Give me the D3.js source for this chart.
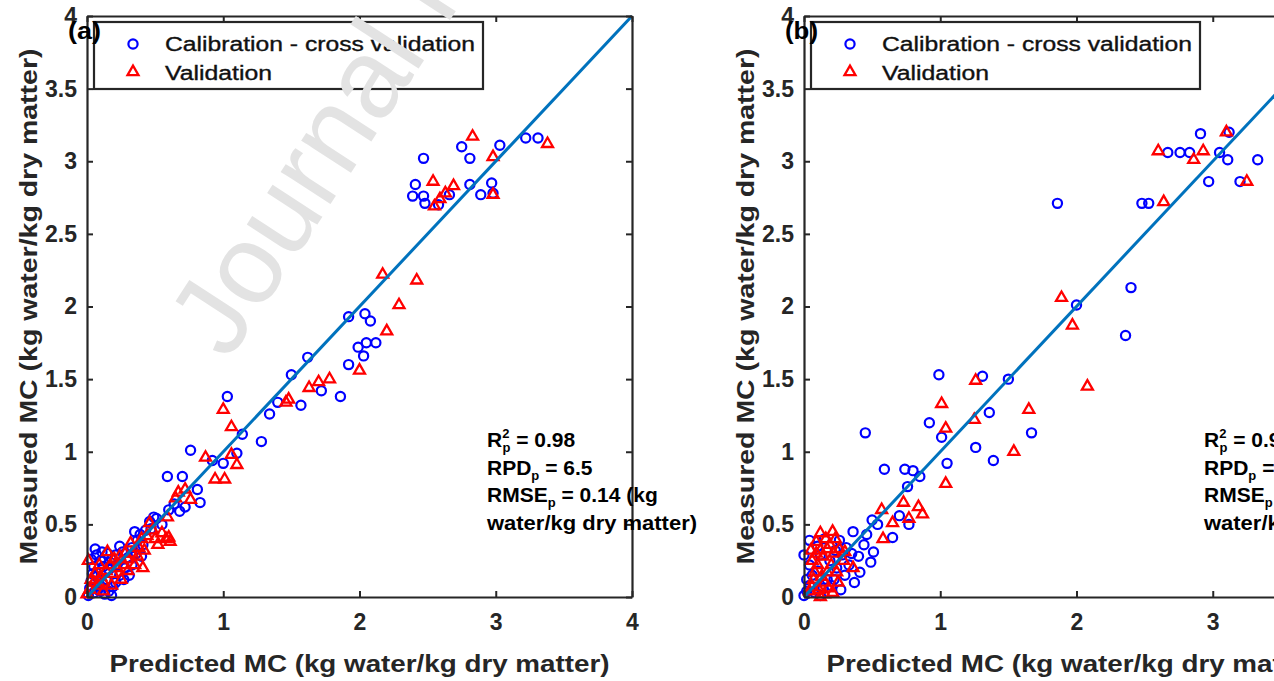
<!DOCTYPE html>
<html>
<head>
<meta charset="utf-8">
<script src="https://cdn.jsdelivr.net/npm/d3@7"></script>
<style>
  body { margin: 0; background: #fff; }
  text { font-family: "Liberation Sans", Arial, sans-serif; }
</style>
</head>
<body>
<svg id="chart" width="1274" height="681"></svg>
<script>
// ticks
const xTicks = [0, 1, 2, 3, 4];
const yTicks = [0, 0.5, 1, 1.5, 2, 2.5, 3, 3.5, 4];
const legendLabels = ["Calibration - cross validation", "Validation"];
const panelTags = ["(a)", "(b)"];

// panel (a): [predicted, measured]
const calA = [
  [2.47,3.02],[2.75,3.10],[2.81,3.02],[3.03,3.11],[3.22,3.16],[3.31,3.16],[2.41,2.84],[2.39,2.76],
  [2.47,2.76],[2.48,2.71],[2.58,2.70],[2.66,2.77],[2.81,2.84],[2.89,2.77],[2.97,2.85],[2.98,2.78],
  [1.92,1.93],[2.04,1.95],[2.08,1.90],[2.05,1.75],[2.12,1.75],[1.99,1.72],[2.03,1.66],[1.92,1.60],
  [1.86,1.38],[1.62,1.65],[1.50,1.53],[1.57,1.32],[1.40,1.34],[1.34,1.26],[1.28,1.07],[1.72,1.42],
  [1.14,1.12],[1.03,1.38],[1.10,0.99],[1.00,0.92],[0.92,0.94],[0.76,1.01],
  [0.59,0.83],[0.70,0.83],[0.81,0.74],[0.83,0.65],[0.72,0.62],[0.68,0.59],[0.64,0.64],[0.60,0.60],
  [0.51,0.54],[0.55,0.50],[0.47,0.47],
  [0.01,0.01],[0.02,0.06],[0.03,0.11],[0.04,0.16],[0.05,0.21],[0.03,0.26],[0.07,0.29],[0.10,0.25],
  [0.12,0.21],[0.07,0.14],[0.09,0.09],[0.10,0.04],[0.13,0.02],[0.16,0.04],[0.19,0.07],[0.14,0.12],
  [0.16,0.19],[0.18,0.26],[0.21,0.29],[0.22,0.22],[0.24,0.15],[0.21,0.10],[0.27,0.12],[0.28,0.20],
  [0.30,0.27],[0.26,0.31],[0.33,0.34],[0.36,0.30],[0.33,0.22],[0.31,0.15],[0.37,0.39],[0.39,0.43],
  [0.35,0.45],[0.41,0.36],[0.43,0.46],[0.46,0.52],[0.49,0.55],[0.24,0.35],[0.15,0.30],[0.11,0.31],
  [0.06,0.33],[0.08,0.05],[0.05,0.03],[0.18,0.01],[0.40,0.28]
];
const valA = [
  [2.83,3.17],[2.98,3.03],[3.38,3.12],[2.54,2.86],[2.69,2.83],[2.63,2.78],[2.59,2.74],[2.55,2.69],
  [2.98,2.77],
  [2.17,2.22],[2.42,2.18],[2.29,2.01],[2.20,1.83],[2.00,1.56],[1.78,1.50],[1.70,1.48],[1.63,1.44],
  [1.48,1.36],[1.46,1.34],[1.00,1.29],[1.06,1.17],[0.87,0.96],[1.06,0.98],[1.10,0.91],[0.94,0.81],
  [1.01,0.81],
  [0.65,0.68],[0.76,0.67],[0.67,0.72],[0.72,0.74],[0.59,0.55],[0.60,0.41],[0.61,0.38],[0.46,0.51],
  [0.00,0.02],[0.02,0.05],[0.01,0.25],[0.05,0.10],[0.08,0.08],[0.10,0.14],[0.12,0.10],[0.14,0.18],
  [0.15,0.31],[0.17,0.22],[0.19,0.16],[0.20,0.26],[0.22,0.20],[0.24,0.28],[0.25,0.12],[0.27,0.22],
  [0.28,0.30],[0.30,0.26],[0.32,0.37],[0.33,0.30],[0.35,0.22],[0.37,0.28],[0.38,0.34],[0.40,0.40],
  [0.41,0.20],[0.42,0.32],[0.44,0.42],[0.48,0.46],[0.50,0.40],[0.52,0.36],[0.55,0.44],[0.58,0.40],
  [0.18,0.08],[0.30,0.18],[0.12,0.04],[0.06,0.16],[0.09,0.22],[0.03,0.12]
];

// panel (b)
const calB = [
  [2.91,3.19],[3.12,3.20],[2.67,3.06],[2.76,3.06],[2.83,3.06],[3.05,3.06],[3.11,3.01],[3.33,3.01],
  [2.97,2.86],[3.20,2.86],[1.86,2.71],[2.48,2.71],[2.53,2.71],[2.40,2.13],
  [2.00,2.01],[2.36,1.80],[0.99,1.53],[1.31,1.52],[1.50,1.50],[1.36,1.27],[1.67,1.13],[1.26,1.03],
  [1.39,0.94],[0.45,1.13],[0.92,1.20],[1.01,1.10],[1.05,0.92],
  [0.59,0.88],[0.74,0.88],[0.80,0.87],[0.85,0.83],[0.76,0.76],[0.70,0.56],[0.77,0.50],[0.65,0.41],
  [0.50,0.53],[0.54,0.50],[0.36,0.45],[0.46,0.43],[0.51,0.31],[0.49,0.24],[0.41,0.17],[0.37,0.10],
  [0.00,0.01],[0.02,0.04],[0.08,0.03],[0.04,0.08],[0.02,0.12],[0.04,0.22],[0.00,0.29],[0.04,0.39],
  [0.12,0.29],[0.17,0.12],[0.10,0.18],[0.14,0.06],[0.20,0.08],[0.26,0.39],[0.28,0.29],[0.35,0.30],
  [0.30,0.15],[0.33,0.22],[0.24,0.20],[0.22,0.12],[0.19,0.25],[0.27,0.05],[0.06,0.15],[0.10,0.35],
  [0.15,0.40],[0.31,0.34],[0.40,0.28],[0.44,0.36],[0.23,0.32],[0.12,0.01]
];
const valB = [
  [3.10,3.20],[2.60,3.07],[2.93,3.07],[2.86,3.01],[3.25,2.86],[2.64,2.72],[1.89,2.06],[1.97,1.87],
  [2.08,1.45],
  [1.26,1.49],[1.65,1.29],[1.54,1.00],[1.25,1.22],[1.01,1.33],[1.04,1.16],[1.04,0.78],
  [0.73,0.65],[0.84,0.62],[0.87,0.57],[0.77,0.54],[0.65,0.51],[0.57,0.60],[0.58,0.40],
  [0.12,0.44],[0.21,0.45],[0.12,0.32],[0.19,0.36],[0.29,0.25],[0.36,0.20],[0.24,0.17],[0.06,0.25],
  [0.08,0.17],[0.15,0.10],[0.21,0.03],[0.12,0.00],[0.06,0.07],[0.17,0.17],[0.10,0.22],[0.14,0.28],
  [0.09,0.38],[0.16,0.40],[0.22,0.30],[0.26,0.33],[0.07,0.12],[0.11,0.05],[0.18,0.06],[0.13,0.14],
  [0.20,0.22],[0.25,0.10],[0.05,0.32],[0.09,0.30],[0.30,0.31],[0.17,0.33],[0.23,0.40],[0.04,0.04],
  [0.15,0.02]
];

// stats text per panel
const statsA = { r2: "0.98", rpd: "6.5", rmse: "0.14 (kg" };
const statsB = { r2: "0.96", rpd: "4.9", rmse: "0.21 (kg" };

const svg = d3.select("#chart");
const W = 545, H = 581;
const axisColor = "#262626";
const fmt = d3.format("~g");

function drawPanel(ox, cal, val, tag, stats) {
  const x = d3.scaleLinear().domain([0, 4]).range([ox, ox + W]);
  const y = d3.scaleLinear().domain([0, 4]).range([16 + H, 16]);
  const g = svg.append("g");

  // points
  g.selectAll("circle.cal")
    .data(cal)
    .enter()
    .append("circle")
    .attr("class", "cal")
    .attr("cx", d => x(d[0]))
    .attr("cy", d => y(d[1]))
    .attr("r", 4.6)
    .attr("fill", "none")
    .attr("stroke", "#0000ff")
    .attr("stroke-width", 2.2);

  const tri = d3.symbol().type(d3.symbolTriangle).size(52);
  g.selectAll("path.val")
    .data(val)
    .enter()
    .append("path")
    .attr("class", "val")
    .attr("d", tri)
    .attr("transform", d => `translate(${x(d[0])},${y(d[1])})`)
    .attr("fill", "none")
    .attr("stroke", "#ff0000")
    .attr("stroke-width", 2.3);

  // 1:1 line
  g.append("line")
    .attr("x1", x(0)).attr("y1", y(0))
    .attr("x2", x(4)).attr("y2", y(4))
    .attr("stroke", "#0072bd")
    .attr("stroke-width", 3);

  // axes, ticks inward
  const bottom = g.append("g").attr("transform", `translate(0,${y(0)})`)
    .call(d3.axisBottom(x).tickValues(xTicks).tickFormat(fmt).tickSizeInner(-6).tickSizeOuter(0).tickPadding(17));
  const top = g.append("g").attr("transform", `translate(0,${y(4)})`)
    .call(d3.axisTop(x).tickValues(xTicks).tickSizeInner(-6).tickSizeOuter(0).tickFormat(""));
  const left = g.append("g").attr("transform", `translate(${x(0)},0)`)
    .call(d3.axisLeft(y).tickValues(yTicks).tickFormat(fmt).tickSizeInner(-6).tickSizeOuter(0).tickPadding(10));
  const right = g.append("g").attr("transform", `translate(${x(4)},0)`)
    .call(d3.axisRight(y).tickValues(yTicks).tickSizeInner(-6).tickSizeOuter(0).tickFormat(""));

  [bottom, top, left, right].forEach(a => {
    a.select(".domain").attr("stroke", axisColor).attr("stroke-width", 2.2);
    a.selectAll(".tick line").attr("stroke", axisColor).attr("stroke-width", 2);
    a.selectAll("text")
      .attr("fill", axisColor)
      .style("font-size", "23px")
      .style("font-weight", "bold");
  });

  // legend
  const lg = g.append("g");
  lg.append("rect")
    .attr("x", ox + 7).attr("y", 22)
    .attr("width", 389).attr("height", 67)
    .attr("fill", "#fff")
    .attr("stroke", axisColor)
    .attr("stroke-width", 2.2);
  lg.append("circle")
    .attr("cx", ox + 46).attr("cy", 44).attr("r", 4.6)
    .attr("fill", "none").attr("stroke", "#0000ff").attr("stroke-width", 2.2);
  lg.append("path")
    .attr("d", tri)
    .attr("transform", `translate(${ox + 46},72)`)
    .attr("fill", "none").attr("stroke", "#ff0000").attr("stroke-width", 2.3);
  lg.selectAll("text.leg")
    .data(legendLabels)
    .enter()
    .append("text")
    .attr("class", "leg")
    .attr("x", ox + 78)
    .attr("y", (d, i) => 51 + i * 29)
    .attr("fill", "#111")
    .style("font-size", "20px")
    .style("stroke", "#111")
    .style("stroke-width", 0.35)
    .attr("textLength", (d, i) => i === 0 ? 310 : 107)
    .attr("lengthAdjust", "spacingAndGlyphs")
    .text(d => d);

  // panel tag
  g.append("text")
    .attr("x", ox - 19).attr("y", 39)
    .attr("fill", "#000")
    .style("font-size", "24px")
    .style("font-weight", "bold")
    .attr("textLength", 33)
    .attr("lengthAdjust", "spacingAndGlyphs")
    .text(tag);

  // axis titles
  g.append("text")
    .attr("x", ox + W / 2).attr("y", 672)
    .attr("text-anchor", "middle")
    .attr("fill", axisColor)
    .style("font-size", "24px")
    .style("font-weight", "bold")
    .attr("textLength", 500)
    .attr("lengthAdjust", "spacingAndGlyphs")
    .text("Predicted MC (kg water/kg dry matter)");
  g.append("text")
    .attr("transform", `translate(${ox - 50},${16 + H / 2}) rotate(-90)`)
    .attr("text-anchor", "middle")
    .attr("fill", axisColor)
    .style("font-size", "24px")
    .style("font-weight", "bold")
    .attr("textLength", 516)
    .attr("lengthAdjust", "spacingAndGlyphs")
    .text("Measured MC (kg water/kg dry matter)");

  // statistics
  const st = g.append("g")
    .style("font-family", "Lato, 'Open Sans', sans-serif")
    .style("font-weight", "bold")
    .style("font-size", "21px")
    .attr("fill", "#000");
  const sx = ox + 400;
  let t = st.append("text").attr("x", sx).attr("y", 447);
  t.append("tspan").text("R");
  t.append("tspan").attr("dy", -9).style("font-size", "13px").text("2");
  t.append("tspan").attr("dx", -7).attr("dy", 14).style("font-size", "13px").text("p");
  t.append("tspan").attr("dy", -5).text(" = " + stats.r2);
  t = st.append("text").attr("x", sx).attr("y", 475);
  t.append("tspan").text("RPD");
  t.append("tspan").attr("dy", 5).style("font-size", "13px").text("p");
  t.append("tspan").attr("dy", -5).text(" = " + stats.rpd);
  t = st.append("text").attr("x", sx).attr("y", 502);
  t.append("tspan").text("RMSE");
  t.append("tspan").attr("dy", 5).style("font-size", "13px").text("p");
  t.append("tspan").attr("dy", -5).text(" = " + stats.rmse);
  st.append("text").attr("x", sx).attr("y", 530)
    .attr("textLength", 210)
    .attr("lengthAdjust", "spacingAndGlyphs")
    .text("water/kg dry matter)");
}

drawPanel(87, calA, valA, panelTags[0], statsA);
drawPanel(804, calB, valB, panelTags[1], statsB);

// watermark
svg.append("text")
  .attr("transform", "translate(228,362) rotate(-57)")
  .attr("fill", "#e3e3e3")
  .style("font-size", "112px")
  .text("Journal Pre-proof");
</script>
</body>
</html>
